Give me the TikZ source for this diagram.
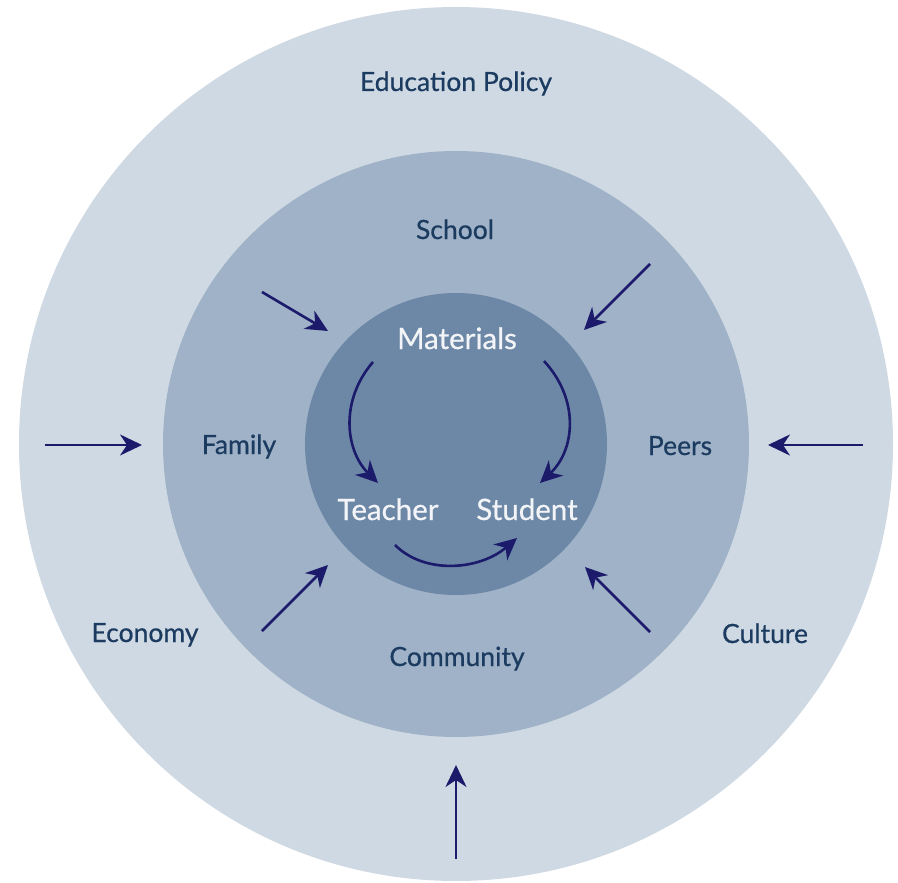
\documentclass[tikz,border=0pt]{standalone}
\usepackage{fontspec}
\setmainfont{Lato}[FakeBold=0.6]
\usetikzlibrary{arrows.meta}
\definecolor{outerc}{HTML}{CFD9E3}
\definecolor{midc}{HTML}{9FB2C7}
\definecolor{innerc}{HTML}{6C88A6}
\definecolor{labc}{HTML}{1C3B60}
\definecolor{arrc}{HTML}{1C1A6B}
\definecolor{whitec}{HTML}{F3F4F7}
\tikzset{
  lab/.style={text=labc, font=\fontsize{26.5}{30}\selectfont, inner sep=0pt, anchor=base},
  ilab/.style={text=whitec, font=\fontsize{29.5}{33}\selectfont, inner sep=0pt, anchor=base},
  arr/.style={draw=arrc, line width=2.6pt, -{Stealth[length=22pt,width=21pt,inset=7pt]}},
}
\begin{document}
\begin{tikzpicture}[x=1pt,y=-1pt]
\useasboundingbox (0,0) rectangle (898,883);
\fill[outerc] (456,444) circle (437);
\fill[midc] (456,444) circle (293);
\fill[innerc] (456,444) circle (151);
% labels
\node[lab] (policy) at (456,91) {Education Policy};
\node[lab] (school) at (455,239) {School};
\node[lab] (family) at (239,454) {Family};
\node[lab] (peers) at (680,455) {Peers};
\node[lab] (community) at (457,666) {Community};
\node[lab] (economy) at (145,642) {Economy};
\node[lab] (culture) at (765,643) {Culture};
\node[ilab] (materials) at (457,349) {Materials};
\node[ilab] (teacher) at (388,520) {Teacher};
\node[ilab] (student) at (527,520) {Student};
% outer arrows
\coordinate (l0) at (45,445);   \coordinate (l1) at (142,445);
\coordinate (r0) at (863,445);  \coordinate (r1) at (768,445);
\coordinate (b0) at (456,859);  \coordinate (b1) at (456,765);
\coordinate (tl0) at (262,292); \coordinate (tl1) at (328,331);
\coordinate (tr0) at (650,264); \coordinate (tr1) at (584,330);
\coordinate (bl0) at (262,631); \coordinate (bl1) at (328,565);
\coordinate (br0) at (650,632); \coordinate (br1) at (585,567);
\draw[arr] (l0) -- (l1);
\draw[arr] (r0) -- (r1);
\draw[arr] (b0) -- (b1);
\draw[arr] (tl0) -- (tl1);
\draw[arr] (tr0) -- (tr1);
\draw[arr] (bl0) -- (bl1);
\draw[arr] (br0) -- (br1);
% inner cycle
\coordinate (m0) at (373,362); \coordinate (t1) at (378,483);
\coordinate (m1) at (544,361); \coordinate (s1) at (540,483);
\coordinate (t0) at (395,545); \coordinate (s0) at (517,538);
\draw[arr] (m0) .. controls (340,400) and (345,450) .. (t1);
\draw[arr] (m1) .. controls (580,400) and (575,450) .. (s1);
\draw[arr] (t0) .. controls (425,575) and (480,570) .. (s0);
\end{tikzpicture}
\end{document}
